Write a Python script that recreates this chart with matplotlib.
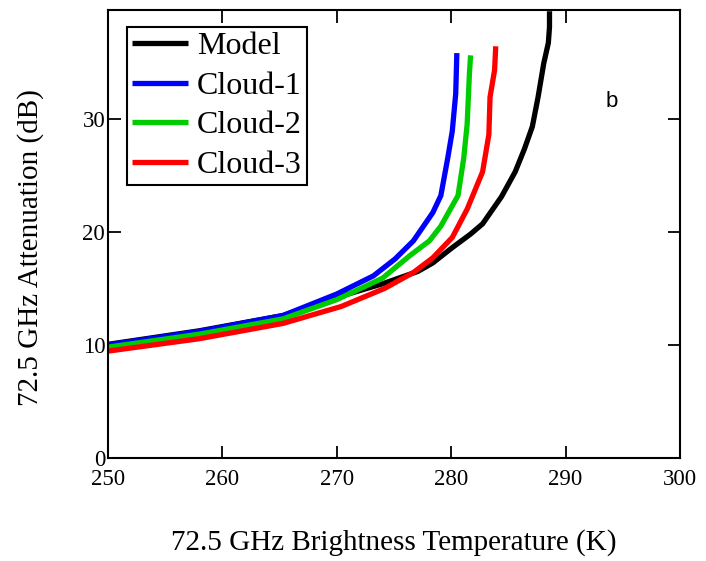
import matplotlib
matplotlib.use("Agg")
import matplotlib.pyplot as plt

# values
model_t = [250, 258, 265.3, 270, 274, 277.1, 278.4, 280.1, 281.7, 282.75, 284.4, 285.6, 286.4, 287.1, 287.6, 288.1, 288.5, 288.6, 288.6]
model_a = [10.05, 11.25, 12.6, 14.2, 15.4, 16.5, 17.25, 18.6, 19.8, 20.7, 23.1, 25.3, 27.3, 29.3, 31.9, 34.9, 36.7, 38.1, 39.5]

c1_t = [250, 258, 265.3, 270, 273.2, 275.1, 276.7, 278.4, 279.1, 279.7, 280.1, 280.4, 280.5]
c1_a = [10.0, 11.2, 12.6, 14.5, 16.1, 17.6, 19.2, 21.7, 23.2, 26.5, 28.9, 32.2, 35.8]

c2_t = [250, 258, 265.3, 270, 274.0, 276.4, 278.1, 279.1, 280.6, 281.1, 281.4, 281.6, 281.7]
c2_a = [9.8, 10.95, 12.3, 14.0, 15.9, 17.9, 19.2, 20.5, 23.2, 26.5, 29.5, 34.0, 35.6]

c3_t = [250, 258, 265.3, 270.4, 274.2, 276.7, 278.4, 280.1, 281.4, 282.75, 283.3, 283.4, 283.8, 283.9]
c3_a = [9.45, 10.55, 11.9, 13.4, 15.0, 16.4, 17.7, 19.5, 22.0, 25.3, 28.6, 31.9, 34.3, 36.4]

labels = ["Model", "Cloud-1", "Cloud-2", "Cloud-3"]
colors = ["black", "#0000ff", "#00cc00", "#ff0000"]

serif = ["Liberation Serif", "DejaVu Serif"]

fig = plt.figure(figsize=(7.06, 5.61), dpi=100)
ax = fig.add_axes([0.153, 0.1836, 0.81, 0.7984])

for (t, a), lab, col in zip([(model_t, model_a), (c1_t, c1_a), (c2_t, c2_a), (c3_t, c3_a)], labels, colors):
    ax.plot(t, a, color=col, lw=3.8, label=lab, solid_capstyle="butt")

ax.set_xlim(250, 300)
ax.set_ylim(0, 39.6)
ax.set_xticks([250, 260, 270, 280, 290, 300])
ax.set_yticks([0, 10, 20, 30])
ax.tick_params(direction="in", length=9, width=1.3, top=True, right=True, labelsize=16.5)
ax.tick_params(axis="x", pad=8)
ax.tick_params(axis="y", pad=2)
for lbl in ax.get_xticklabels() + ax.get_yticklabels():
    lbl.set_family(serif)
for s in ax.spines.values():
    s.set_linewidth(1.5)

ax.set_xlabel("72.5 GHz Brightness Temperature (K)", family=serif, fontsize=21, labelpad=28)
ax.set_ylabel("72.5 GHz Attenuation (dB)", family=serif, fontsize=21, labelpad=28)
ax.yaxis.label.set_y(0.47)

leg = ax.legend(loc="upper left", bbox_to_anchor=(0.033, 0.962), prop={"family": serif, "size": 23},
                fancybox=False, framealpha=1, edgecolor="black", handlelength=1.75,
                borderaxespad=0, labelspacing=0.32, handletextpad=0.3, borderpad=0.15)
leg.get_frame().set_linewidth(1.5)

ax.text(293.5, 31.0, "b", family=["Liberation Sans", "DejaVu Sans"], fontsize=16)

fig.savefig("out.png", dpi=100)
